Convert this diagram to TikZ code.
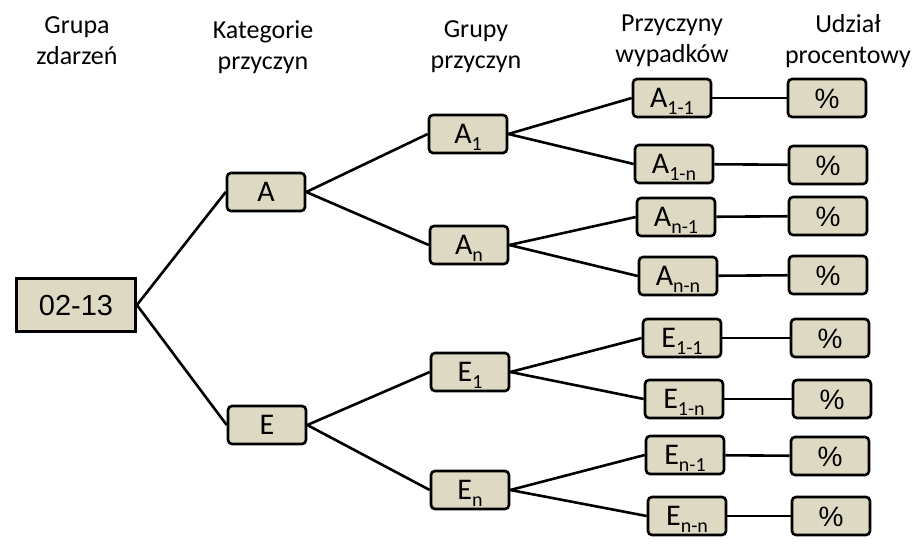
\documentclass[tikz,border=0pt]{standalone}
\usepackage{fontspec}
\setmainfont{Carlito}
\newfontfamily\arialfont{Liberation Sans}
\usepackage{tikz}
\usepackage{xcolor}
\usetikzlibrary{positioning}
\definecolor{boxfill}{HTML}{DDD9C3}
\newcommand{\lowidx}[1]{\raisebox{-6.5pt}{\fontsize{20}{20}\selectfont #1}}

\begin{document}
\begin{tikzpicture}[
x=1pt, y=-1pt,
box/.style={draw, line width=2.6pt, rounded corners=4pt, minimum width=78pt, minimum height=38pt, inner sep=0pt, fill=boxfill, text height=19pt, text depth=0pt, font=\fontsize{30}{36}\selectfont},
pbox/.style={box, text height=20pt, font=\arialfont\fontsize{28}{32}\selectfont},
rootbox/.style={draw, line width=2.8pt, minimum width=119pt, minimum height=53pt, inner sep=0pt, fill=boxfill, text height=21pt, text depth=0pt, font=\arialfont\fontsize{29}{33}\selectfont},
head/.style={anchor=north, align=center, inner sep=0pt, font=\fontsize{26}{31}\selectfont},
link/.style={line width=2.6pt}
]
\useasboundingbox (0,0) rectangle (924,544);

% column headers
\node[head] (h1) at (77,16) {Grupa\\zdarzeń};
\node[head] (h2) at (263,20) {Kategorie\\przyczyn};
\node[head] (h3) at (476,20) {Grupy\\przyczyn};
\node[head] (h4) at (672,15) {Przyczyny\\wypadków};
\node[head] (h5) at (848,14) {Udział\\procentowy};

% tree
\node[rootbox] (root) at (76,305) {02-13};
\node[box] (a) at (266,192) {A};
\node[box] (e) at (267,425) {E};
\node[box] (a1) at (468,134) {A\lowidx{1}};
\node[box] (an) at (469,245) {A\lowidx{n}};
\node[box] (e1) at (470,372) {E\lowidx{1}};
\node[box] (en) at (470,490) {E\lowidx{n}};
\node[box] (a11) at (672,98) {A\lowidx{1-1}};
\node[box] (a1n) at (674,164) {A\lowidx{1-n}};
\node[box] (an1) at (676,217) {A\lowidx{n-1}};
\node[box] (ann) at (678,276) {A\lowidx{n-n}};
\node[box] (e11) at (682,338) {E\lowidx{1-1}};
\node[box] (e1n) at (684,399) {E\lowidx{1-n}};
\node[box] (en1) at (685,455) {E\lowidx{n-1}};
\node[box] (enn) at (687,516) {E\lowidx{n-n}};

% percentages
\node[pbox] (pa11) at (827,98) {\%};
\node[pbox] (pa1n) at (828,165) {\%};
\node[pbox] (pan1) at (828,216) {\%};
\node[pbox] (pann) at (828,275) {\%};
\node[pbox] (pe11) at (830,338) {\%};
\node[pbox] (pe1n) at (832,399) {\%};
\node[pbox] (pen1) at (830,456) {\%};
\node[pbox] (penn) at (831,516) {\%};

\draw[link] (root.east) -- (a.west);
\draw[link] (root.east) -- (e.west);
\draw[link] (a.east) -- (a1.west);
\draw[link] (a.east) -- (an.west);
\draw[link] (e.east) -- (e1.west);
\draw[link] (e.east) -- (en.west);
\draw[link] (a1.east) -- (a11.west);
\draw[link] (a1.east) -- (a1n.west);
\draw[link] (an.east) -- (an1.west);
\draw[link] (an.east) -- (ann.west);
\draw[link] (e1.east) -- (e11.west);
\draw[link] (e1.east) -- (e1n.west);
\draw[link] (en.east) -- (en1.west);
\draw[link] (en.east) -- (enn.west);
\draw[link] (a11) -- (pa11);
\draw[link] (a1n) -- (pa1n);
\draw[link] (an1) -- (pan1);
\draw[link] (ann) -- (pann);
\draw[link] (e11) -- (pe11);
\draw[link] (e1n) -- (pe1n);
\draw[link] (en1) -- (pen1);
\draw[link] (enn) -- (penn);
\end{tikzpicture}
\end{document}
